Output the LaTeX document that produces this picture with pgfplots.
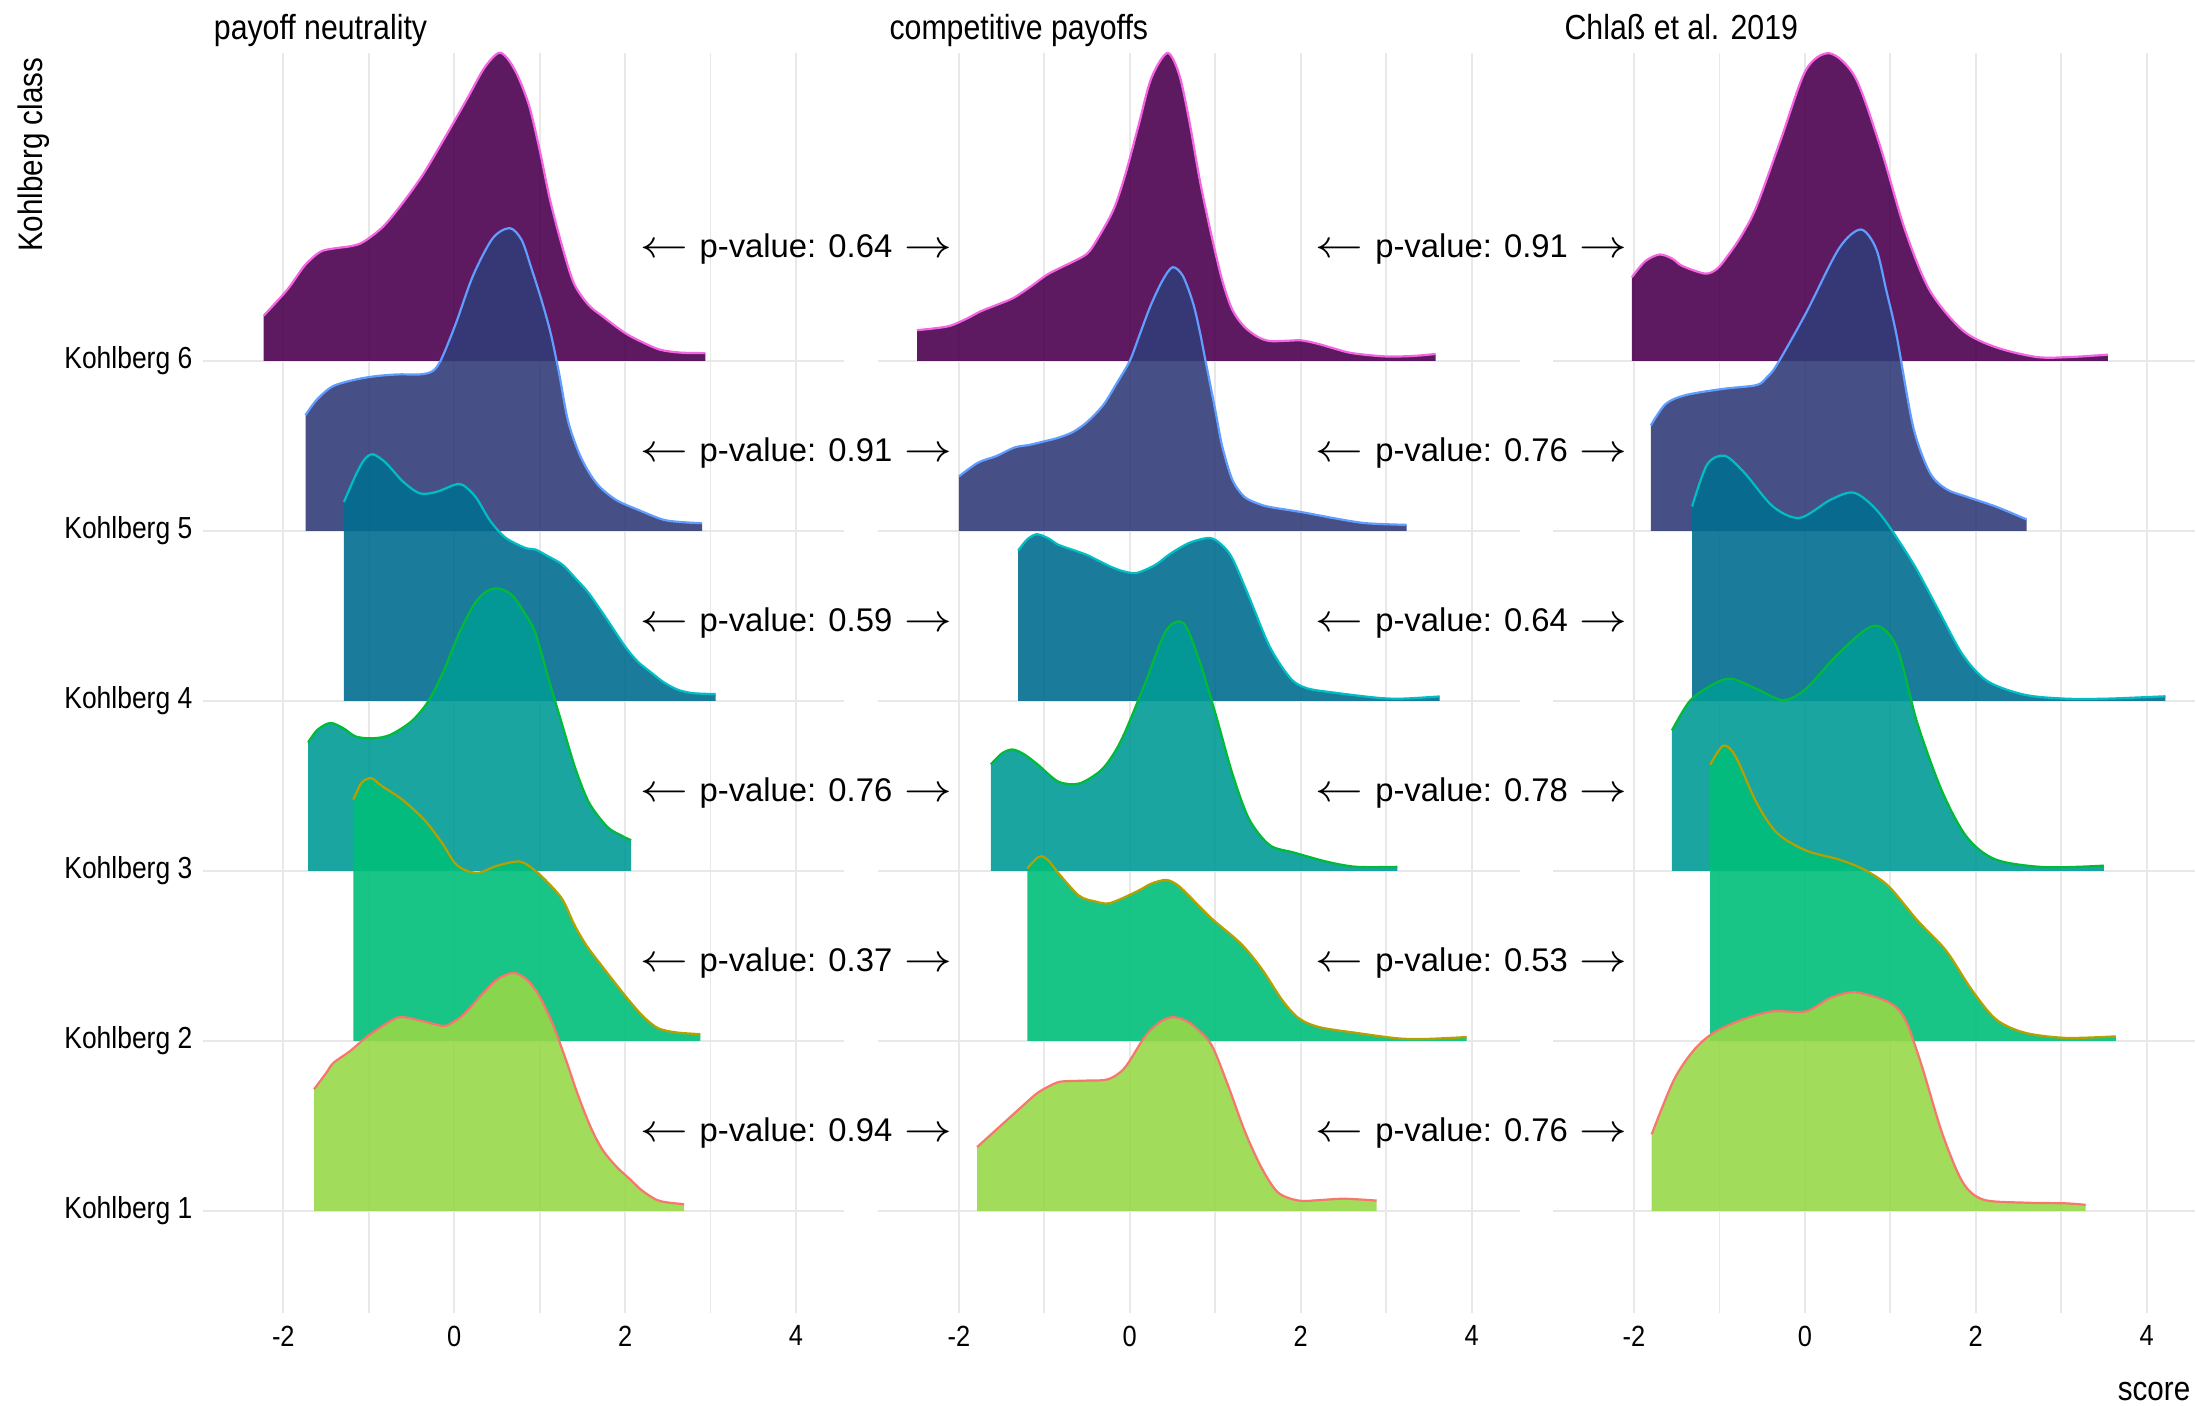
\documentclass[border=0pt]{standalone}
\usepackage{fontspec}
\setmainfont{Liberation Sans}
\newfontfamily\narrowfont{Liberation Sans}[FakeStretch=0.87]
\usepackage{pgfplots}
\pgfplotsset{compat=1.18}

\definecolor{f6}{RGB}{75,1,80}
\definecolor{f5}{RGB}{50,60,121}
\definecolor{f4}{RGB}{1,110,143}
\definecolor{f3}{RGB}{2,155,150}
\definecolor{f2}{RGB}{0,190,122}
\definecolor{f1}{RGB}{151,216,73}
\definecolor{l6}{HTML}{F564E3}
\definecolor{l5}{HTML}{619CFF}
\definecolor{l4}{HTML}{00BFC4}
\definecolor{l3}{HTML}{00BA38}
\definecolor{l2}{HTML}{B79F00}
\definecolor{l1}{HTML}{F8766D}
\definecolor{gridc}{RGB}{232,232,232}

\newcommand{\ylabfont}{\narrowfont\fontsize{7.6}{9}\selectfont}
\newcommand{\xlabfont}{\narrowfont\fontsize{7.3}{9}\selectfont}
\newcommand{\titlefont}{\narrowfont\fontsize{8.7}{10}\selectfont}
\newcommand{\axtitlefont}{\narrowfont\fontsize{8.5}{10}\selectfont}
\newcommand{\pvfont}{\fontsize{8.2}{9.8}\selectfont}
\newcommand{\larr}{\scalebox{1.4}[1.2]{$\leftarrow$}}
\newcommand{\rarr}{\scalebox{1.4}[1.2]{$\rightarrow$}}
\newcommand{\pv}[1]{\larr\hspace{3pt}p-value: #1\hspace{3pt}\rarr}

% #1 fill, #2 line, #3 baseline, #4 x start, #5 x end, #6 (x, height) points
\newcommand{\ridge}[6]{%
  \addplot[draw=none, fill=#1, fill opacity=0.9, smooth, y filter/.expression={y+#3}]
    coordinates {#6} -- (axis cs:#5,#3) -- (axis cs:#4,#3) -- cycle;
  \addplot[draw=#2, line width=0.55pt, smooth, y filter/.expression={y+#3}]
    coordinates {#6};
}

\pgfplotsset{ridgeaxis/.style={
  scale only axis, width=160.3pt, height=315pt,
  xmin=-2.943, xmax=4.561, ymin=0.4, ymax=7.81,
  xtick={-2,0,2,4}, xticklabels={-2,0,2,4},
  minor xtick={-1,1,3},
  ytick={1,2,3,4,5,6},
  xmajorgrids, xminorgrids, ymajorgrids,
  major grid style={draw=gridc, line width=0.45pt},
  minor grid style={draw=gridc, line width=0.45pt},
  axis line style={draw=none},
  tick style={draw=none},
  major tick length=0pt, minor tick length=0pt,
  clip=false,
  xticklabel style={font=\xlabfont, inner sep=0pt, anchor=north, yshift=-3pt},
  yticklabel style={font=\ylabfont, inner sep=0pt, anchor=east, xshift=-2.4pt},
}}

\begin{document}
\begin{tikzpicture}
\useasboundingbox (0,0) rectangle (549.25pt,351.25pt);

% ---------------- Panel 1: payoff neutrality ----------------
\begin{axis}[ridgeaxis, at={(50.68pt,23pt)}, anchor=south west,
  yticklabels={Kohlberg 1,Kohlberg 2,Kohlberg 3,Kohlberg 4,Kohlberg 5,Kohlberg 6}]
\ridge{f6}{l6}{6}{-2.23}{2.94}{(-2.23,0.265) (-1.95,0.42) (-1.75,0.56) (-1.57,0.64) (-1.415,0.66) (-1.2,0.675) (-1.06,0.70) (-0.83,0.79) (-0.6,0.93) (-0.36,1.10) (-0.1,1.32) (0.145,1.535) (0.35,1.72) (0.515,1.81) (0.62,1.78) (0.74,1.68) (0.877,1.50) (1.0,1.24) (1.12,0.95) (1.26,0.68) (1.40,0.457) (1.57,0.33) (1.74,0.26) (2.0,0.163) (2.2,0.11) (2.41,0.065) (2.65,0.048) (2.94,0.045)}
\ridge{f5}{l5}{5}{-1.74}{2.90}{(-1.74,0.68) (-1.61,0.77) (-1.42,0.85) (-1.15,0.89) (-0.91,0.91) (-0.65,0.92) (-0.40,0.92) (-0.25,0.94) (-0.15,1.01) (0.02,1.22) (0.22,1.50) (0.45,1.72) (0.65,1.78) (0.79,1.71) (0.90,1.55) (1.02,1.36) (1.13,1.16) (1.23,0.92) (1.33,0.65) (1.45,0.47) (1.57,0.35) (1.70,0.26) (1.9,0.18) (2.15,0.124) (2.45,0.065) (2.7,0.05) (2.90,0.045)}
\ridge{f4}{l4}{4}{-1.29}{3.06}{(-1.29,1.17) (-1.15,1.33) (-1.05,1.42) (-0.95,1.45) (-0.8,1.40) (-0.6,1.29) (-0.40,1.22) (-0.2,1.23) (0.0,1.27) (0.10,1.27) (0.25,1.20) (0.42,1.06) (0.6,0.96) (0.83,0.90) (0.95,0.89) (1.1,0.85) (1.27,0.80) (1.42,0.72) (1.58,0.63) (1.8,0.47) (2.0,0.32) (2.15,0.23) (2.31,0.165) (2.45,0.11) (2.62,0.065) (2.8,0.045) (3.06,0.04)}
\ridge{f3}{l3}{3}{-1.71}{2.07}{(-1.71,0.755) (-1.6,0.83) (-1.45,0.87) (-1.3,0.84) (-1.15,0.79) (-0.95,0.78) (-0.75,0.80) (-0.5,0.88) (-0.30,1.0) (-0.12,1.18) (0.06,1.40) (0.25,1.58) (0.40,1.65) (0.53,1.66) (0.68,1.62) (0.82,1.52) (0.95,1.40) (1.11,1.12) (1.27,0.85) (1.42,0.60) (1.58,0.40) (1.79,0.26) (1.95,0.21) (2.07,0.18)}
\ridge{f2}{l2}{2}{-1.18}{2.88}{(-1.18,1.42) (-1.08,1.52) (-0.97,1.545) (-0.85,1.50) (-0.61,1.42) (-0.35,1.30) (-0.15,1.17) (0.01,1.045) (0.15,1.0) (0.30,0.99) (0.5,1.03) (0.77,1.055) (0.95,1.0) (1.1,0.93) (1.27,0.83) (1.41,0.68) (1.55,0.56) (1.73,0.44) (1.9,0.33) (2.06,0.23) (2.22,0.14) (2.39,0.074) (2.6,0.05) (2.88,0.04)}
\ridge{f1}{l1}{1}{-1.64}{2.69}{(-1.64,0.716) (-1.5,0.81) (-1.415,0.87) (-1.22,0.94) (-1.02,1.025) (-0.8,1.10) (-0.635,1.14) (-0.40,1.12) (-0.2,1.095) (-0.09,1.09) (0.1,1.15) (0.30,1.26) (0.5,1.36) (0.69,1.40) (0.85,1.36) (1.0,1.26) (1.16,1.09) (1.3,0.90) (1.45,0.68) (1.6,0.49) (1.736,0.36) (1.9,0.26) (2.05,0.19) (2.2,0.12) (2.37,0.065) (2.5,0.05) (2.69,0.04)}
\node[anchor=base west, inner sep=0pt, font=\titlefont, xshift=2.6pt, yshift=3.4pt] at (rel axis cs:0,1) {payoff neutrality};
\node[anchor=base, inner sep=0pt, font=\pvfont] at (axis cs:4,6.61) {\pv{0.64}};
\node[anchor=base, inner sep=0pt, font=\pvfont] at (axis cs:4,5.41) {\pv{0.91}};
\node[anchor=base, inner sep=0pt, font=\pvfont] at (axis cs:4,4.41) {\pv{0.59}};
\node[anchor=base, inner sep=0pt, font=\pvfont] at (axis cs:4,3.41) {\pv{0.76}};
\node[anchor=base, inner sep=0pt, font=\pvfont] at (axis cs:4,2.41) {\pv{0.37}};
\node[anchor=base, inner sep=0pt, font=\pvfont] at (axis cs:4,1.41) {\pv{0.94}};
\end{axis}

% ---------------- Panel 2: competitive payoffs ----------------
\begin{axis}[ridgeaxis, at={(219.58pt,23pt)}, anchor=south west, yticklabels={}]
\ridge{f6}{l6}{6}{-2.49}{3.58}{(-2.49,0.18) (-2.3,0.19) (-2.10,0.206) (-1.9,0.25) (-1.75,0.29) (-1.55,0.33) (-1.36,0.37) (-1.15,0.44) (-0.97,0.506) (-0.8,0.55) (-0.66,0.584) (-0.5,0.63) (-0.386,0.71) (-0.19,0.89) (-0.05,1.1) (0.1,1.38) (0.25,1.66) (0.44,1.81) (0.58,1.68) (0.70,1.40) (0.82,1.06) (0.95,0.75) (1.08,0.476) (1.2,0.30) (1.34,0.20) (1.5,0.14) (1.64,0.116) (1.85,0.118) (2.01,0.12) (2.2,0.10) (2.38,0.074) (2.6,0.045) (2.98,0.026) (3.3,0.028) (3.58,0.04)}
\ridge{f5}{l5}{5}{-2.0}{3.24}{(-2.0,0.32) (-1.78,0.40) (-1.56,0.44) (-1.35,0.49) (-1.17,0.506) (-0.97,0.53) (-0.85,0.545) (-0.67,0.58) (-0.5,0.64) (-0.31,0.74) (-0.15,0.87) (0.0,1.0) (0.12,1.16) (0.24,1.32) (0.38,1.47) (0.50,1.55) (0.62,1.50) (0.74,1.34) (0.82,1.17) (0.89,0.99) (1.0,0.71) (1.08,0.50) (1.2,0.30) (1.34,0.20) (1.5,0.16) (1.64,0.14) (2.01,0.11) (2.38,0.075) (2.76,0.045) (3.24,0.035)}
\ridge{f4}{l4}{4}{-1.306}{3.626}{(-1.306,0.884) (-1.2,0.95) (-1.087,0.98) (-0.95,0.955) (-0.836,0.918) (-0.65,0.885) (-0.496,0.857) (-0.35,0.82) (-0.205,0.785) (-0.06,0.76) (0.086,0.753) (0.3,0.80) (0.474,0.865) (0.7,0.93) (0.934,0.958) (1.07,0.92) (1.20,0.838) (1.395,0.612) (1.637,0.319) (1.88,0.133) (2.074,0.074) (2.414,0.047) (2.9,0.018) (3.19,0.013) (3.626,0.026)}
\ridge{f3}{l3}{3}{-1.627}{3.131}{(-1.627,0.626) (-1.5,0.69) (-1.379,0.714) (-1.25,0.69) (-1.078,0.626) (-0.836,0.525) (-0.593,0.514) (-0.35,0.586) (-0.2,0.68) (-0.06,0.812) (0.18,1.105) (0.424,1.412) (0.628,1.457) (0.812,1.239) (1.006,0.919) (1.20,0.573) (1.395,0.306) (1.637,0.152) (1.928,0.107) (2.316,0.053) (2.656,0.024) (3.131,0.024)}
\ridge{f2}{l2}{2}{-1.20}{3.943}{(-1.20,1.014) (-1.1,1.07) (-1.03,1.086) (-0.95,1.06) (-0.836,0.987) (-0.593,0.854) (-0.4,0.82) (-0.23,0.811) (0.086,0.88) (0.25,0.925) (0.424,0.947) (0.55,0.92) (0.667,0.867) (0.958,0.72) (1.297,0.574) (1.54,0.427) (1.783,0.241) (1.977,0.134) (2.22,0.081) (2.656,0.047) (3.14,0.015) (3.48,0.012) (3.943,0.023)}
\ridge{f1}{l1}{1}{-1.787}{2.889}{(-1.787,0.376) (-1.466,0.522) (-1.25,0.62) (-1.078,0.695) (-0.9,0.745) (-0.787,0.762) (-0.496,0.767) (-0.253,0.775) (-0.06,0.842) (0.18,1.028) (0.35,1.11) (0.497,1.14) (0.65,1.12) (0.764,1.081) (0.958,0.975) (1.152,0.735) (1.346,0.469) (1.54,0.256) (1.734,0.109) (1.977,0.061) (2.22,0.064) (2.511,0.072) (2.889,0.061)}
\node[anchor=base west, inner sep=0pt, font=\titlefont, xshift=2.6pt, yshift=3.4pt] at (rel axis cs:0,1) {competitive payoffs};
\node[anchor=base, inner sep=0pt, font=\pvfont] at (axis cs:4,6.61) {\pv{0.91}};
\node[anchor=base, inner sep=0pt, font=\pvfont] at (axis cs:4,5.41) {\pv{0.76}};
\node[anchor=base, inner sep=0pt, font=\pvfont] at (axis cs:4,4.41) {\pv{0.64}};
\node[anchor=base, inner sep=0pt, font=\pvfont] at (axis cs:4,3.41) {\pv{0.78}};
\node[anchor=base, inner sep=0pt, font=\pvfont] at (axis cs:4,2.41) {\pv{0.53}};
\node[anchor=base, inner sep=0pt, font=\pvfont] at (axis cs:4,1.41) {\pv{0.76}};
\end{axis}

% ---------------- Panel 3: Chlass et al. 2019 ----------------
\begin{axis}[ridgeaxis, at={(388.35pt,23pt)}, anchor=south west, yticklabels={}]
\ridge{f6}{l6}{6}{-2.025}{3.545}{(-2.025,0.491) (-1.87,0.585) (-1.70,0.625) (-1.55,0.60) (-1.436,0.558) (-1.17,0.513) (-1.03,0.54) (-0.905,0.616) (-0.75,0.73) (-0.567,0.906) (-0.277,1.308) (0.012,1.71) (0.292,1.808) (0.591,1.665) (0.88,1.263) (1.17,0.772) (1.46,0.415) (1.846,0.179) (2.232,0.080) (2.715,0.022) (3.10,0.022) (3.545,0.036)}
\ridge{f5}{l5}{5}{-1.803}{2.594}{(-1.803,0.62) (-1.629,0.746) (-1.388,0.799) (-0.953,0.835) (-0.567,0.857) (-0.45,0.90) (-0.326,0.978) (0.012,1.28) (0.398,1.66) (0.654,1.772) (0.833,1.66) (0.95,1.42) (1.074,1.147) (1.267,0.612) (1.46,0.344) (1.653,0.246) (1.894,0.20) (2.232,0.143) (2.594,0.067)}
\ridge{f4}{l4}{4}{-1.32}{4.22}{(-1.32,1.143) (-1.146,1.388) (-0.943,1.442) (-0.712,1.344) (-0.374,1.143) (-0.06,1.076) (0.302,1.183) (0.582,1.223) (0.881,1.098) (1.267,0.808) (1.556,0.54) (1.846,0.272) (2.136,0.116) (2.57,0.036) (3.05,0.013) (3.535,0.013) (4.22,0.027)}
\ridge{f3}{l3}{3}{-1.556}{3.50}{(-1.556,0.826) (-1.339,1.004) (-1.05,1.103) (-0.857,1.13) (-0.567,1.071) (-0.253,1.004) (0.012,1.071) (0.398,1.281) (0.808,1.442) (1.074,1.317) (1.315,0.871) (1.605,0.469) (1.894,0.20) (2.232,0.067) (2.81,0.022) (3.50,0.031)}
\ridge{f2}{l2}{2}{-1.108}{3.64}{(-1.108,1.625) (-0.953,1.737) (-0.808,1.67) (-0.567,1.402) (-0.326,1.223) (0.012,1.12) (0.398,1.067) (0.688,1.009) (0.978,0.911) (1.315,0.71) (1.653,0.531) (1.943,0.308) (2.232,0.129) (2.57,0.049) (3.05,0.018) (3.64,0.027)}
\ridge{f1}{l1}{1}{-1.793}{3.286}{(-1.793,0.451) (-1.532,0.772) (-1.291,0.951) (-1.05,1.054) (-0.712,1.129) (-0.374,1.174) (0.012,1.174) (0.302,1.254) (0.591,1.286) (0.978,1.228) (1.17,1.129) (1.363,0.862) (1.605,0.46) (1.846,0.17) (2.087,0.067) (2.57,0.049) (3.05,0.045) (3.286,0.036)}
\node[anchor=base west, inner sep=0pt, font=\titlefont, xshift=2.6pt, yshift=3.4pt] at (rel axis cs:0,1) {Chlaß et al. 2019};
\end{axis}

\node[rotate=90, anchor=base east, inner sep=0pt, font=\axtitlefont] at (10.7pt,337pt) {Kohlberg class};
\node[anchor=base east, inner sep=0pt, font=\axtitlefont] at (547.75pt,1.25pt) {score};
\end{tikzpicture}
\end{document}
